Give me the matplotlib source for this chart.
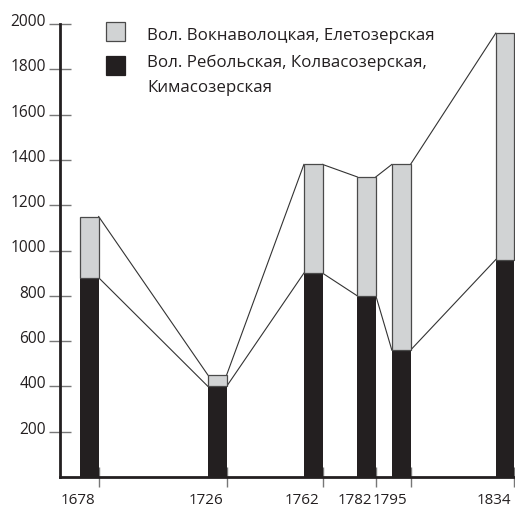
import matplotlib
matplotlib.use("Agg")
import matplotlib.pyplot as plt
from matplotlib.patches import Rectangle
from matplotlib.transforms import ScaledTranslation, blended_transform_factory

plt.rcParams['font.family'] = ['Open Sans', 'DejaVu Sans']

# ---- data ----
years = [1678, 1726, 1762, 1782, 1795, 1834]
year_labels = ["1678", "1726", "1762", "1782", "1795", "1834"]
black_vals = [880, 400, 900, 800, 560, 960]      # Вол. Ребольская, Колвасозерская, Кимасозерская
gray_vals = [270, 50, 480, 525, 820, 1000]       # Вол. Вокнаволоцкая, Елетозерская
y_ticks = [200, 400, 600, 800, 1000, 1200, 1400, 1600, 1800, 2000]
legend_lines = [["Вол. Вокнаволоцкая, Елетозерская"],
                ["Вол. Ребольская, Колвасозерская,", "Кимасозерская"]]

BLACK = '#231f20'
GRAY = '#d1d3d4'
bar_w = 7  # years

W, H = 515, 508
fig = plt.figure(figsize=(W / 100, H / 100), dpi=100)
ax = fig.add_axes([60 / W, 31 / H, 455 / W, 453 / H])
ax.set_xlim(1663.5, 1834.2)
ax.set_ylim(0, 2000)

totals = [b + g for b, g in zip(black_vals, gray_vals)]

ax.bar(years, black_vals, width=-bar_w, align='edge', color=BLACK,
       edgecolor='none', zorder=2)
ax.bar(years, gray_vals, width=-bar_w, align='edge', bottom=black_vals,
       color=GRAY, edgecolor='#4a4a4a', linewidth=0.9, zorder=2)

# connecting lines: right top corner of one bar to left top corner of next
for i in range(len(years) - 1):
    x0 = years[i]
    x1 = years[i + 1] - bar_w
    ax.plot([x0, x1], [totals[i], totals[i + 1]], color='#333333', lw=0.8, zorder=1)
    ax.plot([x0, x1], [black_vals[i], black_vals[i + 1]], color='#333333', lw=0.8, zorder=1)

# spines
for s in ['top', 'right']:
    ax.spines[s].set_visible(False)
for s in ['left', 'bottom']:
    ax.spines[s].set_linewidth(2)
    ax.spines[s].set_color(BLACK)
    ax.spines[s].set_zorder(3)

ax.set_xticks(years)
ax.set_xticklabels([])
ax.set_yticks(y_ticks)
ax.set_yticklabels([])
ax.tick_params(axis='y', direction='inout', length=15.8, width=1, color='#777777')
ax.tick_params(axis='x', direction='inout', length=14.4, width=1, color='#777777')

# tick labels drawn manually
ytr = blended_transform_factory(ax.transAxes, ax.transData) + \
    ScaledTranslation(-0.14, -0.02, fig.dpi_scale_trans)
for v in y_ticks:
    ax.text(0, v, str(v), transform=ytr, ha='right', va='baseline',
            fontsize=11.2, color='#231f20')

xtr = blended_transform_factory(ax.transData, ax.transAxes) + \
    ScaledTranslation(-0.035, -0.265, fig.dpi_scale_trans)
for yr, lab in zip(years, year_labels):
    ax.text(yr, 0, lab, transform=xtr, ha='right', va='baseline',
            fontsize=10.9, color='#231f20', clip_on=False)

# legend (manual)
sq = 19
for (cy, col, edge) in [(31.5, GRAY, '#4a4a4a'), (65.5, BLACK, BLACK)]:
    fig.patches.append(Rectangle(((106) / W, 1 - (cy + sq / 2) / H), sq / W, sq / H,
                                 transform=fig.transFigure, facecolor=col,
                                 edgecolor=edge, linewidth=0.9))
line_centers = [[34], [61, 86]]
for lines, centers in zip(legend_lines, line_centers):
    for txt, cy in zip(lines, centers):
        fig.text(147 / W, 1 - cy / H, txt, ha='left', va='center_baseline',
                 fontsize=12.2, color='#231f20')

fig.savefig('out.png', dpi=100)
